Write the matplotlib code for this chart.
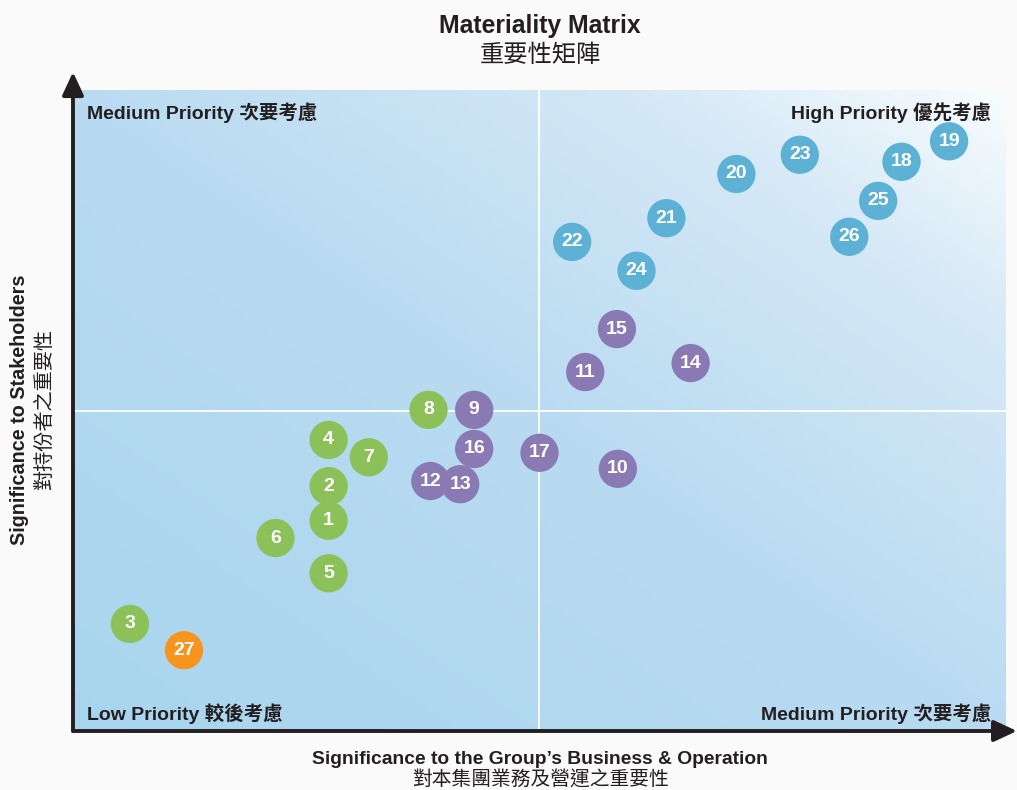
import numpy as np
import matplotlib.pyplot as plt
from matplotlib.colors import LinearSegmentedColormap

plt.rcParams['font.family'] = ['Liberation Sans', 'Noto Sans CJK TC', 'DejaVu Sans']

# topic numbers and positions (0-100 scale on both axes)
topics = [1, 2, 3, 4, 5, 6, 7, 8, 9, 10, 11, 12, 13, 14,
          15, 16, 17, 18, 19, 20, 21, 22, 23, 24, 25, 26, 27]
x_business = [27.4, 27.4, 6.1, 27.4, 27.4, 21.7, 31.7, 38.1, 43.0, 58.4, 54.9, 38.3, 41.5, 66.2,
              58.3, 43.0, 50.0, 88.8, 93.9, 71.1, 63.6, 53.5, 77.9, 60.4, 86.3, 83.2, 11.9]
y_stake = [32.8, 38.2, 16.7, 45.4, 24.6, 30.1, 42.7, 50.1, 50.1, 40.9, 56.0, 39.0, 38.5, 57.4,
           62.7, 44.0, 43.4, 88.8, 92.0, 86.9, 80.0, 76.3, 89.9, 71.8, 82.7, 77.1, 12.6]
groups = ['g', 'g', 'g', 'g', 'g', 'g', 'g', 'g', 'p', 'p', 'p', 'p', 'p', 'p',
          'p', 'p', 'p', 'b', 'b', 'b', 'b', 'b', 'b', 'b', 'b', 'b', 'o']

group_colors = {'g': '#8cc15a', 'p': '#8a7ab4', 'b': '#5cb1d4', 'o': '#f7941e'}

fig = plt.figure(figsize=(10.17, 7.9), dpi=100)
fig.patch.set_facecolor('#fafafb')
ax = fig.add_axes([73 / 1017, 59 / 790, 933 / 1017, 641 / 790])
ax.set_xlim(0, 100)
ax.set_ylim(0, 100)

# gradient background: lighter towards the top right corner
gx, gy = np.meshgrid(np.linspace(0, 1, 300), np.linspace(0, 1, 300))
t = (gx + gy) / 2
cmap = LinearSegmentedColormap.from_list(
    'bg', [(0, '#a8d5ee'), (0.5, '#b9dbf1'), (0.8, '#d4e8f6'), (1.0, '#f8fcfe')])
ax.imshow(t, extent=[0, 100, 0, 100], origin='lower', cmap=cmap, aspect='auto', zorder=0)

ax.axvline(50, color='white', lw=1.3, zorder=1)
ax.axhline(50, color='white', lw=1.3, zorder=1)

cols = [group_colors[g] for g in groups]
ax.scatter(x_business, y_stake, s=760, c=cols, edgecolors='none', zorder=3)
for n, xv, yv in zip(topics, x_business, y_stake):
    ax.text(xv, yv, str(n), color='white', fontsize=14, fontweight='bold',
            ha='center', va='center', zorder=4)

ax.set_xticks([])
ax.set_yticks([])
for s in ax.spines.values():
    s.set_visible(False)

# axis arrows
ax.annotate('', xy=(0, 1.028), xytext=(0, 0), xycoords='axes fraction',
            arrowprops=dict(arrowstyle='-|>,head_length=1.4,head_width=0.65', color='#231f20', lw=2.8,
                            shrinkA=0, shrinkB=0), annotation_clip=False)
ax.annotate('', xy=(1.0118, 0), xytext=(0, 0), xycoords='axes fraction',
            arrowprops=dict(arrowstyle='-|>,head_length=1.4,head_width=0.65', color='#231f20', lw=2.8,
                            shrinkA=0, shrinkB=0), annotation_clip=False)

qkw = dict(fontsize=14, fontweight='bold', color='#231f20', zorder=5)
ax.text(1.5, 96.5, 'Medium Priority 次要考慮', ha='left', va='center', **qkw)
ax.text(98.4, 96.5, 'High Priority 優先考慮', ha='right', va='center', **qkw)
ax.text(1.5, 2.7, 'Low Priority 較後考慮', ha='left', va='center', **qkw)
ax.text(98.4, 2.7, 'Medium Priority 次要考慮', ha='right', va='center', **qkw)

tc = '#231f20'
fig.text(540 / 1017, 1 - 26 / 790, 'Materiality Matrix', ha='center', va='center',
         fontsize=17.8, fontweight='bold', color=tc)
fig.text(540 / 1017, 1 - 56 / 790, '重要性矩陣', ha='center', va='center',
         fontsize=17.5, color=tc)
fig.text(540 / 1017, 1 - 760 / 790, 'Significance to the Group\u2019s Business & Operation',
         ha='center', va='center', fontsize=13.9, fontweight='bold', color=tc)
fig.text(540 / 1017, 1 - 780 / 790, '對本集團業務及營運之重要性', ha='center', va='center',
         fontsize=14.2, color=tc)
fig.text(20 / 1017, 1 - 410 / 790, 'Significance to Stakeholders', ha='center', va='center',
         rotation=90, fontsize=14.2, fontweight='bold', color=tc)
fig.text(44 / 1017, 1 - 410 / 790, '對持份者之重要性', ha='center', va='center',
         rotation=90, fontsize=14.5, color=tc)

fig.savefig('out.png', dpi=100, facecolor=fig.get_facecolor())
